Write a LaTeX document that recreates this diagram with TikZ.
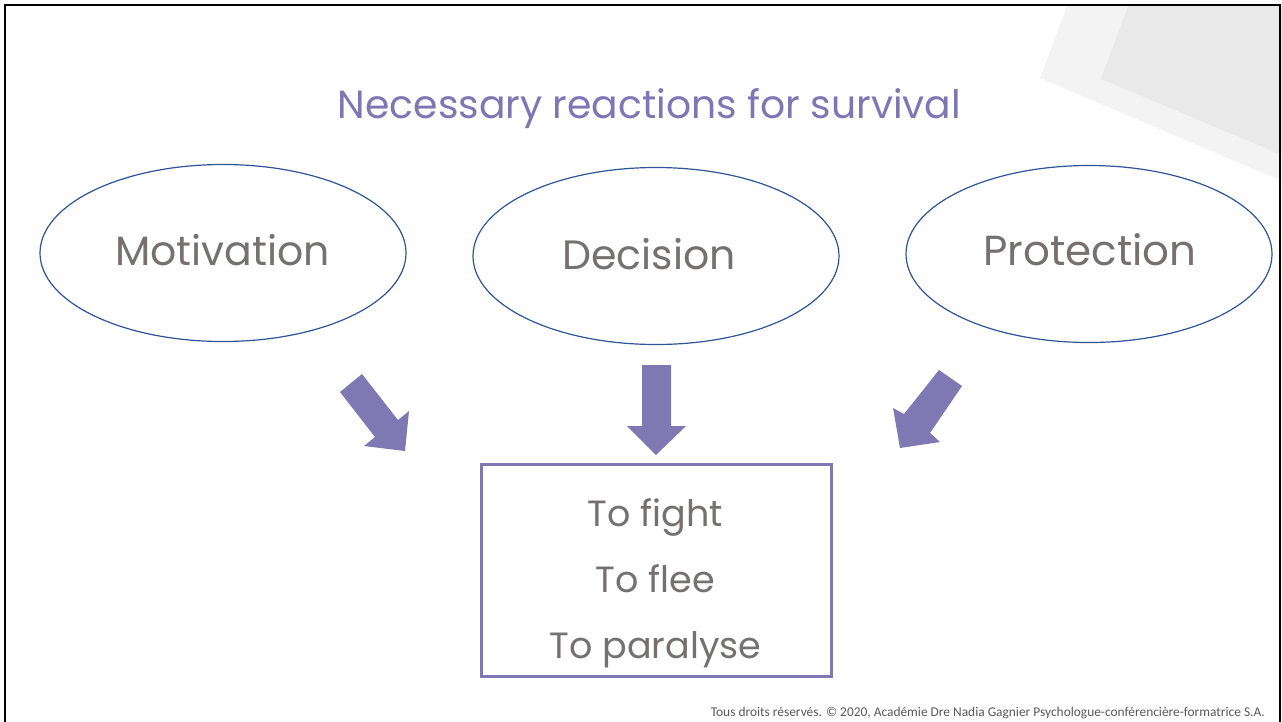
\documentclass[tikz,border=0pt]{standalone}
\usetikzlibrary{shapes.geometric}
\usepackage{fontspec}
\setmainfont{Poppins}
\newfontfamily\footfont{Carlito}
\definecolor{titlepurple}{HTML}{7F77B3}
\definecolor{arrowpurple}{HTML}{8078B2}
\definecolor{ellblue}{HTML}{2F5496}
\definecolor{textgray}{HTML}{767171}
\definecolor{footgray}{HTML}{595959}
\definecolor{decolight}{HTML}{F3F3F3}
\definecolor{decodark}{HTML}{E9E9E9}
\begin{document}
\begin{tikzpicture}[x=1pt,y=-1pt,
  ell/.style={draw=ellblue, line width=1.2pt, ellipse, minimum width=366pt, minimum height=177pt, inner sep=0pt},
  ovaltext/.style={anchor=base, text=textgray, font=\fontsize{41}{41}\selectfont},
  listtext/.style={anchor=base, text=textgray, font=\fontsize{36.5}{36.5}\selectfont},
  blockarrow/.style={fill=arrowpurple, draw=none},
  outcomebox/.style={draw=arrowpurple, line width=3.5pt, minimum width=350pt, minimum height=212pt, inner sep=0pt}
]
\useasboundingbox (0,0) rectangle (1282,721);
\fill[white] (0,0) rectangle (1282,721);
% decoration
\fill[decolight] (1067,6) -- (1282,6) -- (1282,181) -- (1040,78) -- cycle;
\fill[decodark] (1128,6) -- (1282,6) -- (1282,155) -- (1101,79) -- cycle;
% frame
\draw[black, line width=2.5pt] (5,725) -- (5,5) -- (1280,5) -- (1280,725);
% title
\node[anchor=base, text=titlepurple, font=\fontsize{39.3}{39.3}\selectfont] (title) at (649.5,118) {Necessary reactions for survival};
% ellipses
\node[ell] (mot) at (223,253) {};
\node[ell] (dec) at (656,256) {};
\node[ell] (pro) at (1089,254) {};
\node[ovaltext] (motl) at (222.5,265) {Motivation};
\node[ovaltext] (decl) at (649,269) {Decision};
\node[ovaltext, font=\fontsize{42}{42}\selectfont] (prol) at (1090,265) {Protection};
% arrows
\fill[blockarrow] (340,392) -- (362,374) -- (398,420) -- (409,411) -- (405,451) -- (364,446) -- (375,437) -- cycle;
\fill[blockarrow] (642,365) -- (671,365) -- (671,426) -- (686,426) -- (656,455) -- (627,426) -- (642,426) -- cycle;
\fill[blockarrow] (939,370) -- (962,386) -- (930,433) -- (940,442) -- (900,448) -- (893,408) -- (904,414) -- cycle;
% outcome box
\node[outcomebox] (box) at (656.5,570.5) {};
\node[listtext] (l1) at (655.5,526) {To fight};
\node[listtext] (l2) at (655.5,592) {To flee};
\node[listtext] (l3) at (655.5,658) {To paralyse};
% footer
\node[anchor=base east, text=footgray, font=\footfont\fontsize{13.4}{13.4}\selectfont, inner sep=0pt] (foot) at (1265,716) {Tous droits réservés. © 2020, Académie Dre Nadia Gagnier Psychologue-conférencière-formatrice S.A.};
\end{tikzpicture}
\end{document}
